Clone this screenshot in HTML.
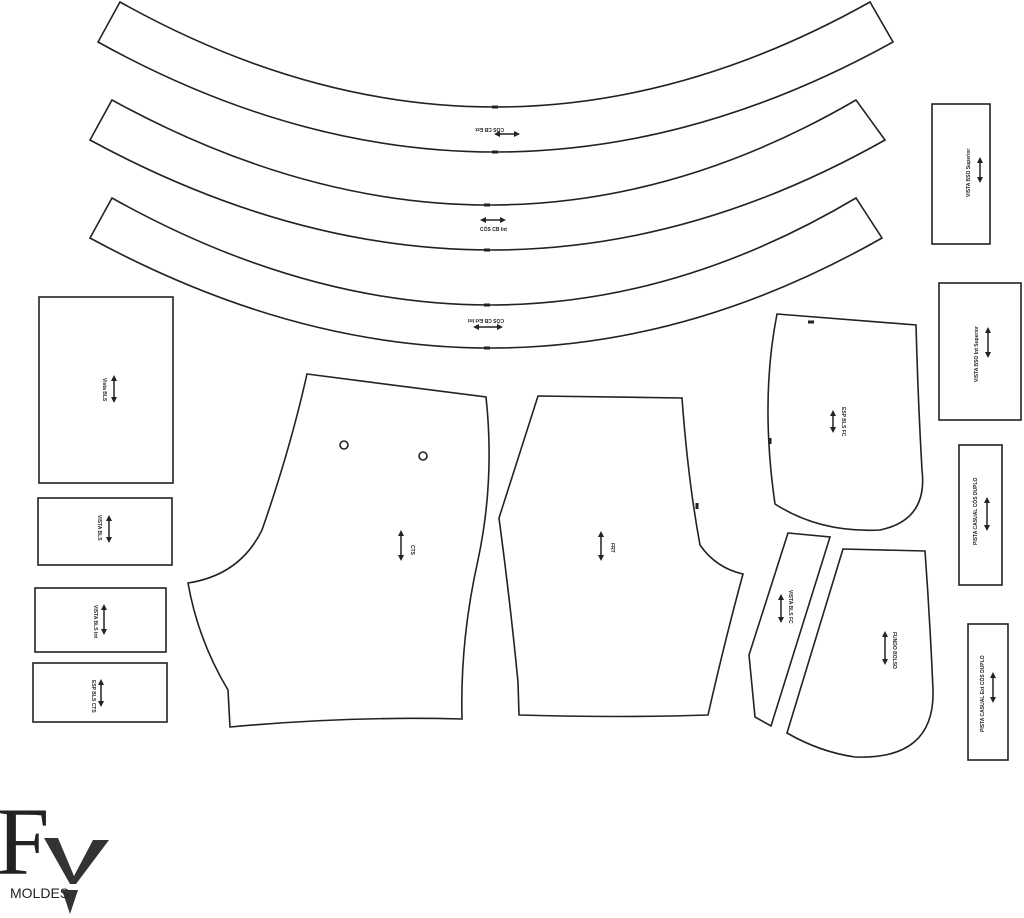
<!DOCTYPE html>
<html><head><style>
html,body{margin:0;padding:0;background:#fff;width:1024px;height:918px;overflow:hidden}
svg{display:block}
text{font-family:"Liberation Sans",sans-serif;font-weight:bold;fill:#222}
</style></head><body>
<svg width="1024" height="918" viewBox="0 0 1024 918" xmlns="http://www.w3.org/2000/svg">
<defs>
<marker id="a" viewBox="0 0 6 6" refX="3" refY="3" markerWidth="4" markerHeight="4" orient="auto-start-reverse"><path d="M0,0L6,3L0,6z" fill="#222"/></marker>
</defs>
<g fill="none" stroke="#222" stroke-width="1.6">
<path d="M120,2 Q495,212 870,2 L893,42 Q495,262 98,42 Z"/>
<path d="M112,100 Q495,310 856,100 L885,140 Q495,360 90,140 Z"/>
<path d="M112,198 Q495,412 856,198 L882,238 Q495,458 90,238 Z"/>
<rect x="39" y="297" width="134" height="186"/>
<rect x="38" y="498" width="134" height="67"/>
<rect x="35" y="588" width="131" height="64"/>
<rect x="33" y="663" width="134" height="59"/>
<rect x="932" y="104" width="58" height="140"/>
<rect x="939" y="283" width="82" height="137"/>
<rect x="959" y="445" width="43" height="140"/>
<rect x="968" y="624" width="40" height="136"/>
<path d="M307,374 L486,397 Q495,480 478,560 Q460,640 462,719 Q350,716 230,727 L228,690 Q198,640 188,583 Q240,575 262,530 Q290,450 307,374 Z"/>
<path d="M538,396 L682,398 Q688,480 700,545 Q716,568 743,574 Q725,640 708,715 Q620,718 519,715 L518,682 Q510,600 499,518 Z"/>
<path d="M777,314 L916,325 Q918,400 922,470 Q928,520 880,530 Q820,533 775,504 Q760,400 777,314 Z"/>
<path d="M788,533 L830,537 L771,726 L755,717 L749,655 Z"/>
<path d="M843,549 L925,551 Q930,620 933,690 Q935,760 855,757 Q820,752 787,733 Z"/>
<circle cx="344" cy="445" r="4"/><circle cx="423" cy="456" r="4"/>
</g>
<g stroke="#222" stroke-width="1.5" fill="none">
<line x1="497" y1="134" x2="517" y2="134" marker-start="url(#a)" marker-end="url(#a)"/>
<line x1="483" y1="220" x2="503" y2="220" marker-start="url(#a)" marker-end="url(#a)"/>
<line x1="476" y1="327" x2="500" y2="327" marker-start="url(#a)" marker-end="url(#a)"/>
<line x1="114" y1="378" x2="114" y2="400" marker-start="url(#a)" marker-end="url(#a)"/>
<line x1="109" y1="518" x2="109" y2="540" marker-start="url(#a)" marker-end="url(#a)"/>
<line x1="104" y1="607" x2="104" y2="632" marker-start="url(#a)" marker-end="url(#a)"/>
<line x1="101" y1="682" x2="101" y2="704" marker-start="url(#a)" marker-end="url(#a)"/>
<line x1="401" y1="533" x2="401" y2="558" marker-start="url(#a)" marker-end="url(#a)"/>
<line x1="601" y1="534" x2="601" y2="558" marker-start="url(#a)" marker-end="url(#a)"/>
<line x1="833" y1="413" x2="833" y2="430" marker-start="url(#a)" marker-end="url(#a)"/>
<line x1="781" y1="597" x2="781" y2="620" marker-start="url(#a)" marker-end="url(#a)"/>
<line x1="885" y1="634" x2="885" y2="662" marker-start="url(#a)" marker-end="url(#a)"/>
<line x1="980" y1="160" x2="980" y2="180" marker-start="url(#a)" marker-end="url(#a)"/>
<line x1="988" y1="330" x2="988" y2="355" marker-start="url(#a)" marker-end="url(#a)"/>
<line x1="987" y1="500" x2="987" y2="528" marker-start="url(#a)" marker-end="url(#a)"/>
<line x1="993" y1="675" x2="993" y2="700" marker-start="url(#a)" marker-end="url(#a)"/>
</g>
<g stroke="#222" stroke-width="3">
<line x1="492" y1="107" x2="498" y2="107"/><line x1="492" y1="152" x2="498" y2="152"/>
<line x1="484" y1="205" x2="490" y2="205"/><line x1="484" y1="250" x2="490" y2="250"/>
<line x1="484" y1="305" x2="490" y2="305"/><line x1="484" y1="348" x2="490" y2="348"/>
<line x1="808" y1="322" x2="814" y2="322"/><line x1="770" y1="438" x2="770" y2="444"/>
<line x1="697" y1="503" x2="697" y2="509"/>
</g>
<g font-size="5">
<text x="488" y="132" transform="rotate(180 496 130)">CÓS CB Ext</text>
<text x="480" y="231">CÓS CB Int</text>
<text x="468" y="323" transform="rotate(180 486 321)">CÓS CB Ext Int</text>
<text transform="translate(103,378) rotate(90)">Vista BLS</text>
<text transform="translate(98,515) rotate(90)">VISTA BLS</text>
<text transform="translate(94,605) rotate(90)">VISTA BLS Int</text>
<text transform="translate(92,680) rotate(90)">ESP BLS CTS</text>
<text transform="translate(411,545) rotate(90)">CTS</text>
<text transform="translate(611,543) rotate(90)">FRT</text>
<text transform="translate(842,407) rotate(90)">ESP BLS FC</text>
<text transform="translate(789,590) rotate(90)">VISTA BLS FC</text>
<text transform="translate(893,632) rotate(90)">FUNDO BOLSO</text>
<text transform="translate(970,197) rotate(-90)">VISTA BSO Superior</text>
<text transform="translate(978,382) rotate(-90)">VISTA BSO Int Superior</text>
<text transform="translate(977,545) rotate(-90)">PISTA CASUAL CÓS DUPLO</text>
<text transform="translate(984,732) rotate(-90)">PISTA CASUAL Ext CÓS DUPLO</text>
</g>
<g fill="#333">
<text x="-4" y="874" font-size="96" style="font-family:'Liberation Serif',serif;font-weight:normal" fill="#333">F</text>
<path d="M44,838 L58,838 L74,876 L93,840 L109,840 L76,884 L70,884 Z"/>
<path d="M62,890 L78,890 L70,914 Z"/>
<text x="10" y="898" font-size="14" style="font-weight:normal" fill="#333">MOLDES</text>
</g>
</svg>
</body></html>
